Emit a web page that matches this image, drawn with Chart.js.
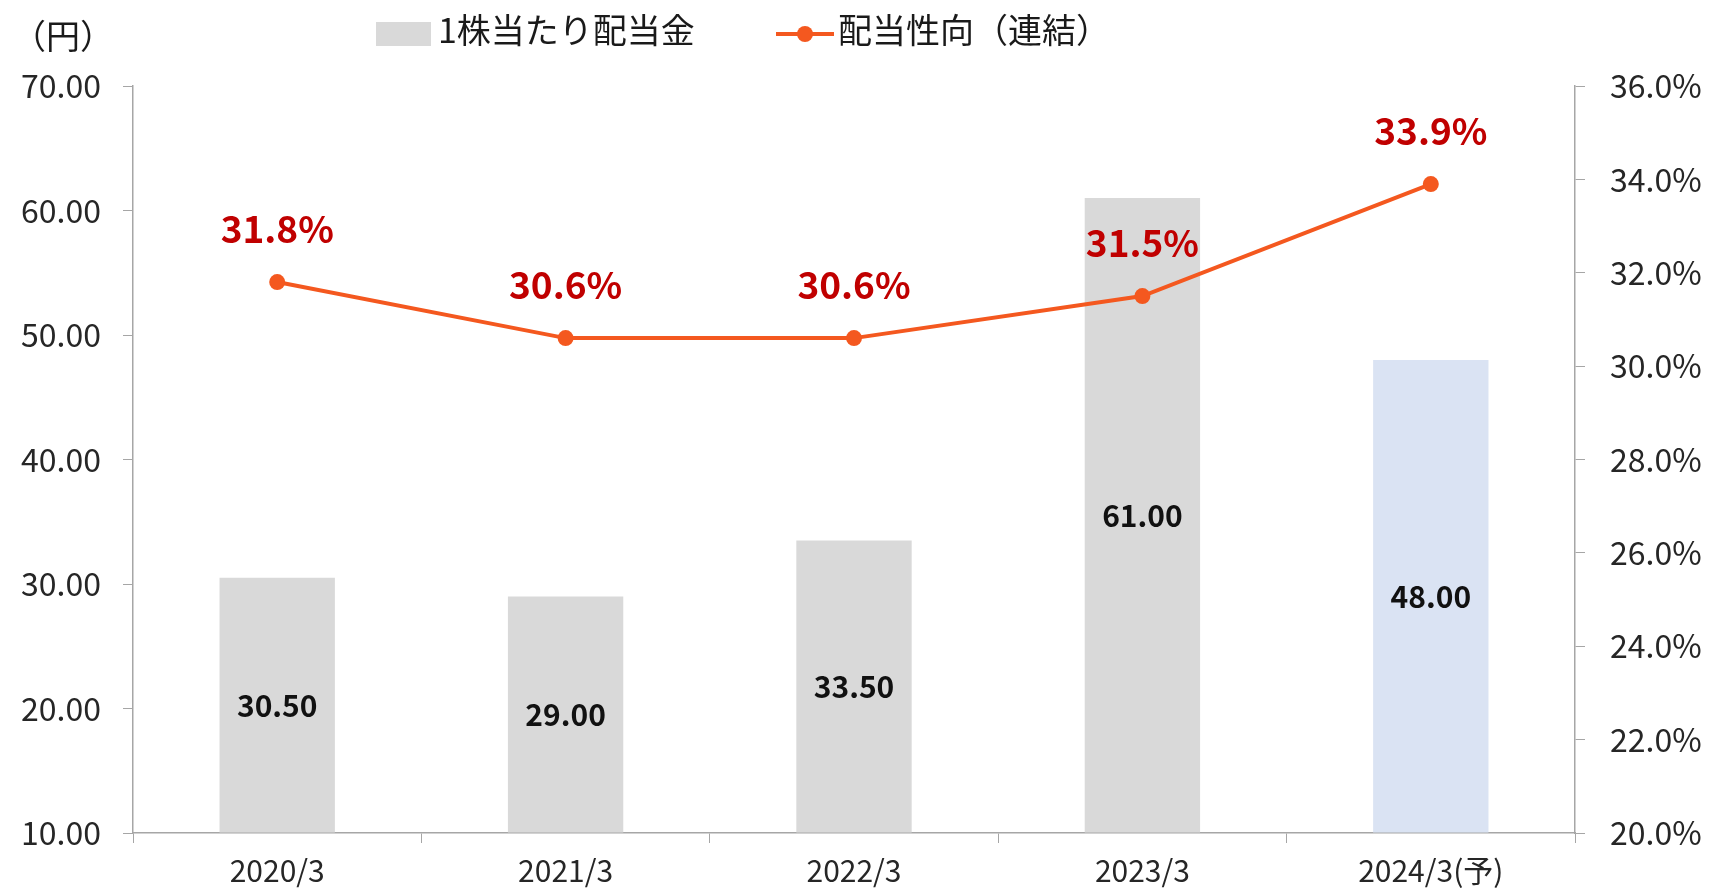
<!DOCTYPE html>
<html>
<head>
<meta charset="utf-8">
<script src="https://cdn.jsdelivr.net/npm/chart.js@4.4.0/dist/chart.umd.min.js"></script>
<style>
  html, body { margin: 0; padding: 0; background: #fff; }
  #wrap { width: 1709px; height: 894px; }
</style>
</head>
<body>
<div id="wrap"><canvas id="dividendChart" width="1709" height="894"></canvas></div>
<script>
const FONT = '"Noto Sans CJK JP", "Noto Sans", sans-serif';

// data
const categories = ['2020/3', '2021/3', '2022/3', '2023/3', '2024/3(予)'];
const dividendPerShare = [30.50, 29.00, 33.50, 61.00, 48.00];
const payoutRatio = [31.8, 30.6, 30.6, 31.5, 33.9];
const barColors = ['#d9d9d9', '#d9d9d9', '#d9d9d9', '#d9d9d9', '#dae3f3'];
const unitLabel = '（円）';
const barLabel = '1株当たり配当金';
const lineLabel = '配当性向（連結）';

const lineColor = '#f4581f';
const axisColor = '#a6a6a6';

// ラベルと凡例を描くプラグイン
const labelPlugin = {
  id: 'labelPlugin',
  afterDatasetsDraw(chart) {
    const ctx = chart.ctx;
    const yL = chart.scales.y;
    ctx.save();
    ctx.textAlign = 'center';
    ctx.textBaseline = 'middle';

    // 棒の値
    const barMeta = chart.getDatasetMeta(0);
    ctx.font = 'bold 30px ' + FONT;
    ctx.fillStyle = '#111';
    barMeta.data.forEach((bar, i) => {
      const top = yL.getPixelForValue(dividendPerShare[i]);
      const bottom = yL.getPixelForValue(yL.min);
      ctx.fillText(dividendPerShare[i].toFixed(2), bar.x, (top + bottom) / 2);
    });

    // 配当性向の値
    const lineMeta = chart.getDatasetMeta(1);
    ctx.font = 'bold 37px ' + FONT;
    ctx.fillStyle = '#c00000';
    lineMeta.data.forEach((pt, i) => {
      ctx.fillText(payoutRatio[i].toFixed(1) + '%', pt.x, pt.y - 53);
    });

    // 単位と凡例
    ctx.fillStyle = '#1a1a1a';
    ctx.font = '34px ' + FONT;
    ctx.textAlign = 'left';
    ctx.fillText(unitLabel, 12, 36);

    ctx.font = '34px ' + FONT;
    ctx.fillStyle = '#d9d9d9';
    ctx.fillRect(376, 22, 55, 24);
    ctx.fillStyle = '#1a1a1a';
    ctx.fillText(barLabel, 438, 30);

    ctx.strokeStyle = lineColor;
    ctx.lineWidth = 4;
    ctx.beginPath();
    ctx.moveTo(776, 34);
    ctx.lineTo(834, 34);
    ctx.stroke();
    ctx.fillStyle = lineColor;
    ctx.beginPath();
    ctx.arc(805, 34, 8, 0, Math.PI * 2);
    ctx.fill();
    ctx.fillStyle = '#1a1a1a';
    ctx.fillText(lineLabel, 838, 30);
    ctx.restore();
  }
};

const ctx = document.getElementById('dividendChart').getContext('2d');

new Chart(ctx, {
  type: 'bar',
  data: {
    labels: categories,
    datasets: [
      {
        type: 'bar',
        label: barLabel,
        data: dividendPerShare,
        backgroundColor: barColors,
        base: 10,
        yAxisID: 'y',
        categoryPercentage: 1,
        barPercentage: 0.4,
        order: 2
      },
      {
        type: 'line',
        label: lineLabel,
        data: payoutRatio,
        borderColor: lineColor,
        backgroundColor: lineColor,
        borderWidth: 4,
        pointRadius: 8,
        pointBackgroundColor: lineColor,
        pointBorderWidth: 0,
        tension: 0,
        fill: false,
        yAxisID: 'y1',
        order: 1
      }
    ]
  },
  options: {
    responsive: false,
    animation: false,
    layout: { padding: { top: 86, left: 0, right: 0, bottom: 0 } },
    plugins: {
      legend: { display: false },
      tooltip: { enabled: false }
    },
    scales: {
      x: {
        grid: { drawOnChartArea: false, drawTicks: true, tickLength: 10, color: axisColor, offset: true },
        border: { color: axisColor, width: 1.5 },
        ticks: { font: { family: FONT, size: 30 }, color: '#262626', padding: 10, maxRotation: 0 },
        afterFit(scale) { scale.height = 61; }
      },
      y: {
        position: 'left',
        min: 10,
        max: 70,
        ticks: {
          stepSize: 10,
          font: { family: FONT, size: 32 },
          color: '#262626',
          padding: 22,
          callback: v => v.toFixed(2)
        },
        grid: { drawOnChartArea: false, drawTicks: true, tickLength: 10, color: axisColor },
        border: { color: axisColor, width: 1.5 },
        afterFit(scale) { scale.width = 133; }
      },
      y1: {
        position: 'right',
        min: 20,
        max: 36,
        ticks: {
          stepSize: 2,
          font: { family: FONT, size: 32 },
          color: '#262626',
          padding: 25,
          callback: v => v.toFixed(1) + '%'
        },
        grid: { drawOnChartArea: false, drawTicks: true, tickLength: 10, color: axisColor },
        border: { color: axisColor, width: 1.5 },
        afterFit(scale) { scale.width = 134; }
      }
    }
  },
  plugins: [labelPlugin]
});
</script>
</body>
</html>
